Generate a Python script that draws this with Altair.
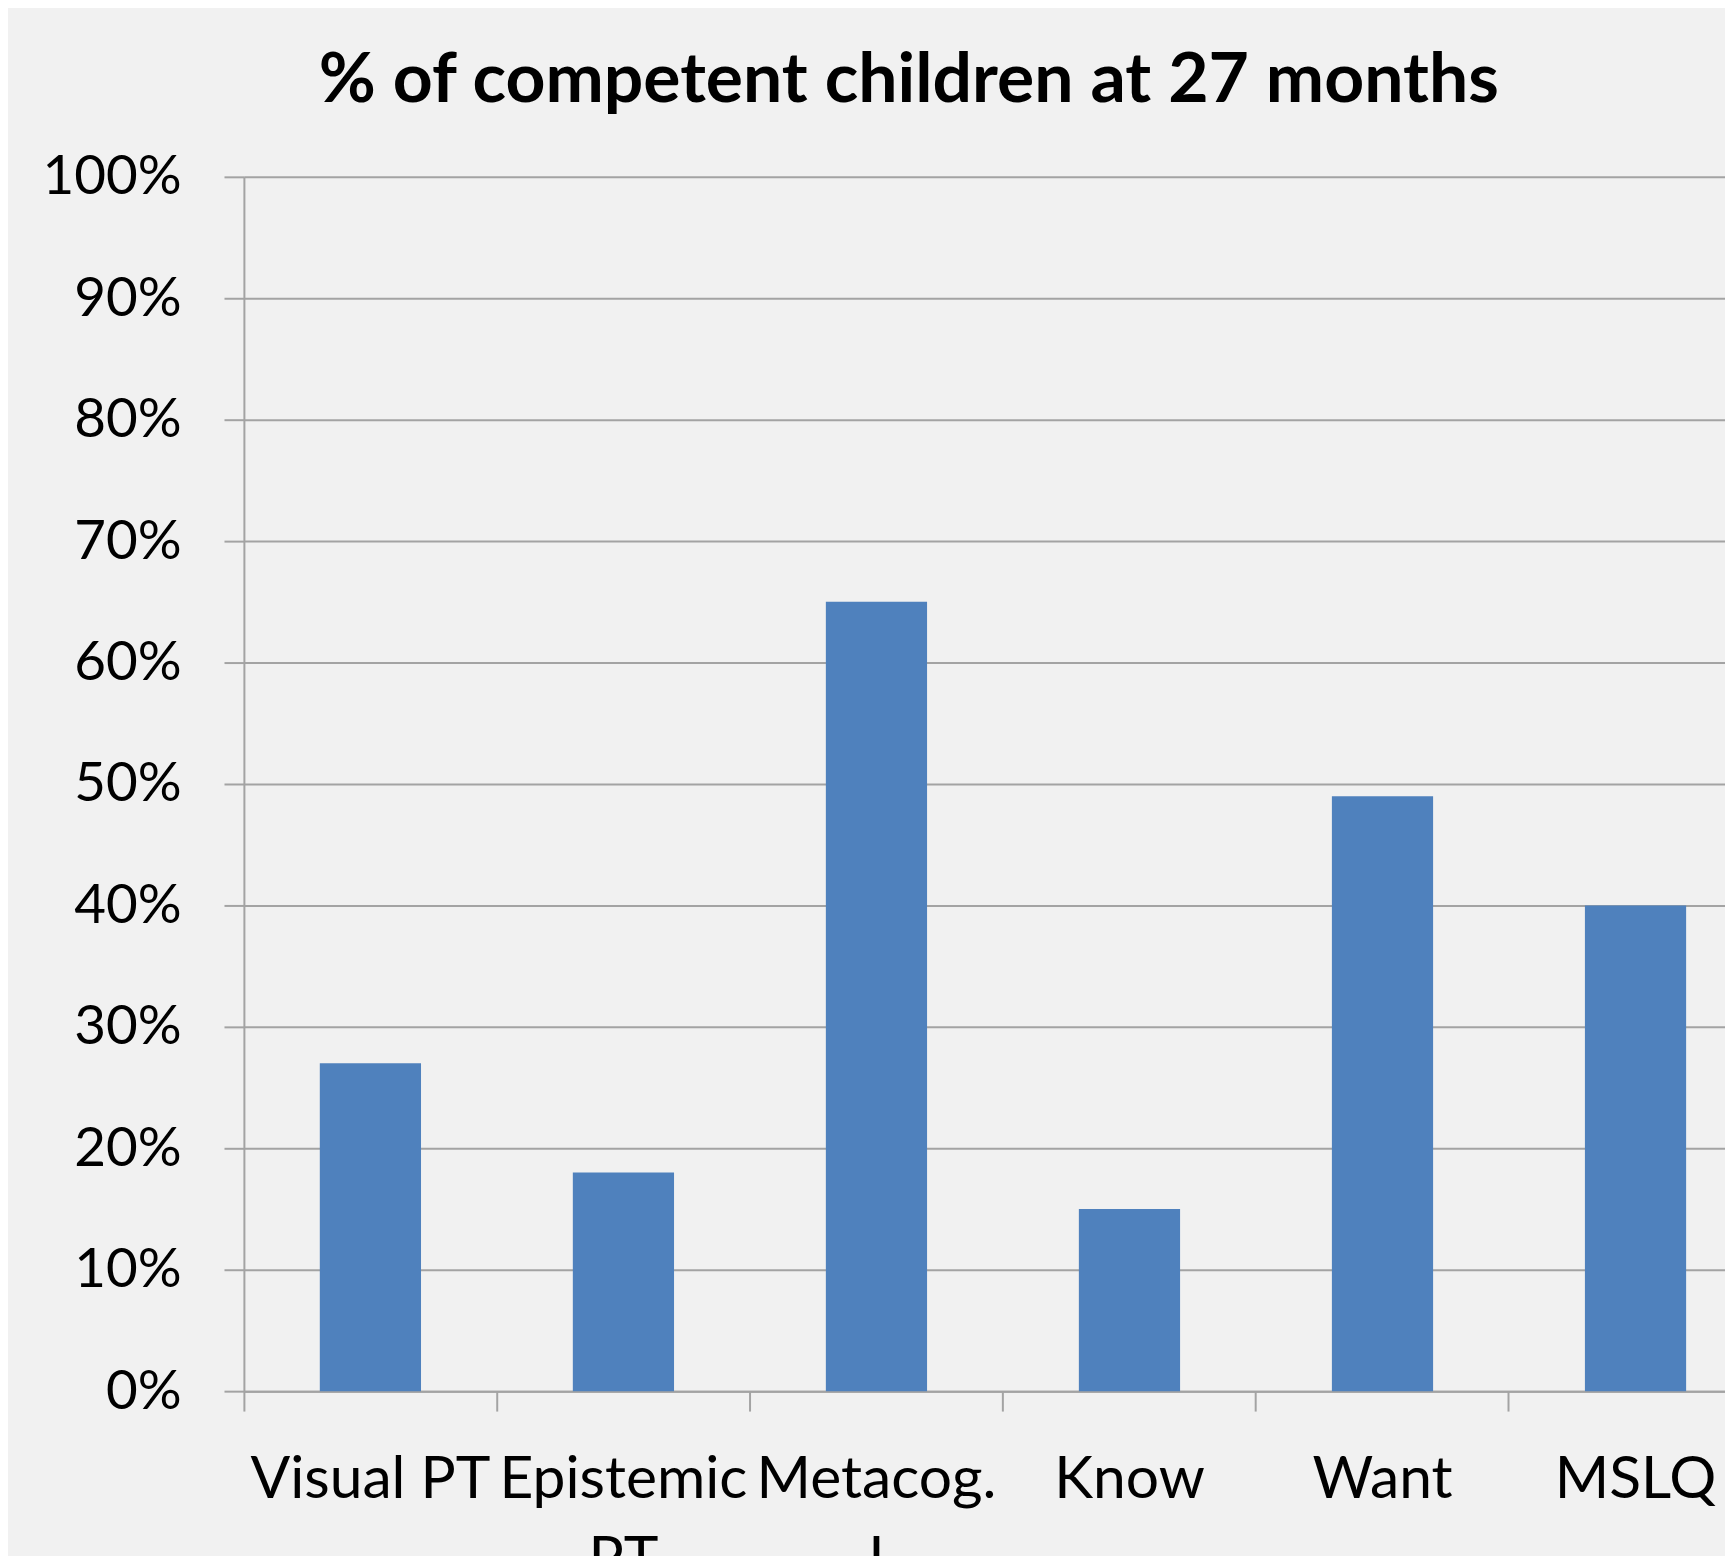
import altair as alt
import pandas as pd

# ---- data ----
categories = ["Visual PT", "Epistemic PT", "Metacog. I", "Know", "Want", "MSLQ"]
values = [0.27, 0.18, 0.65, 0.15, 0.49, 0.40]
# how multi-word labels wrap in the reference
label_lines = {"Epistemic PT": ["Epistemic", "PT"], "Metacog. I": ["Metacog.", "I"]}
y_ticks = [0.0, 0.1, 0.2, 0.3, 0.4, 0.5, 0.6, 0.7, 0.8, 0.9, 1.0]
title_text = "% of competent children at 27 months"

df = pd.DataFrame({"category": categories, "value": values})

# build label expression for wrapped labels
expr = "datum.label"
for k, lines in label_lines.items():
    arr = "[" + ",".join("'" + l + "'" for l in lines) + "]"
    expr = f"datum.label == '{k}' ? {arr} : ({expr})"

GRID = "#a3a3a3"
STEP = 254.2
N = len(categories)

chart = (
    alt.Chart(df)
    .mark_bar(color="#4f81bd", width=alt.RelativeBandSize(0.4))
    .encode(
        x=alt.X(
            "category:N",
            sort=categories,
            scale=alt.Scale(range=[0, STEP * N], paddingInner=0, paddingOuter=0),
            axis=alt.Axis(
                title=None,
                labelAngle=0,
                bandPosition=0,
                labelExpr=expr,
                labelFont="Lato",
                labelFontSize=59,
                labelColor="black",
                labelPadding=40,
                labelLineHeight=80,
                labelBaseline="top",
                labelAlign="center",
                labelLimit=0,
                tickSize=20,
                grid=False,
                labelOverlap=False,
            ),
        ),
        y=alt.Y(
            "value:Q",
            scale=alt.Scale(domain=[0, 1], nice=False),
            axis=alt.Axis(
                title=None,
                values=y_ticks,
                format=".0%",
                labelFont="Lato",
                labelFontSize=55,
                labelColor="black",
                labelPadding=43,
                tickSize=20,
                grid=True,
            ),
        ),
    )
    .properties(
        width=1488,
        height=1220,
        title=alt.TitleParams(
            text=title_text,
            font="Lato",
            fontSize=70,
            fontWeight="bold",
            color="black",
            anchor="middle",
            baseline="alphabetic",
            offset=73,
            dy=95,
            dx=-76,
        ),
        autosize=alt.AutoSizeParams(type="none"),
        padding={"left": 237, "top": 166, "right": 0, "bottom": 162},
        background="#f1f1f1",
    )
    .configure_axis(
        domainColor=GRID,
        domainWidth=2,
        tickColor=GRID,
        tickWidth=2,
        gridColor=GRID,
        gridWidth=2,
    )
    .configure_view(strokeWidth=0)
)

chart.save("out.html", embed_options={"renderer": "svg", "actions": False})
